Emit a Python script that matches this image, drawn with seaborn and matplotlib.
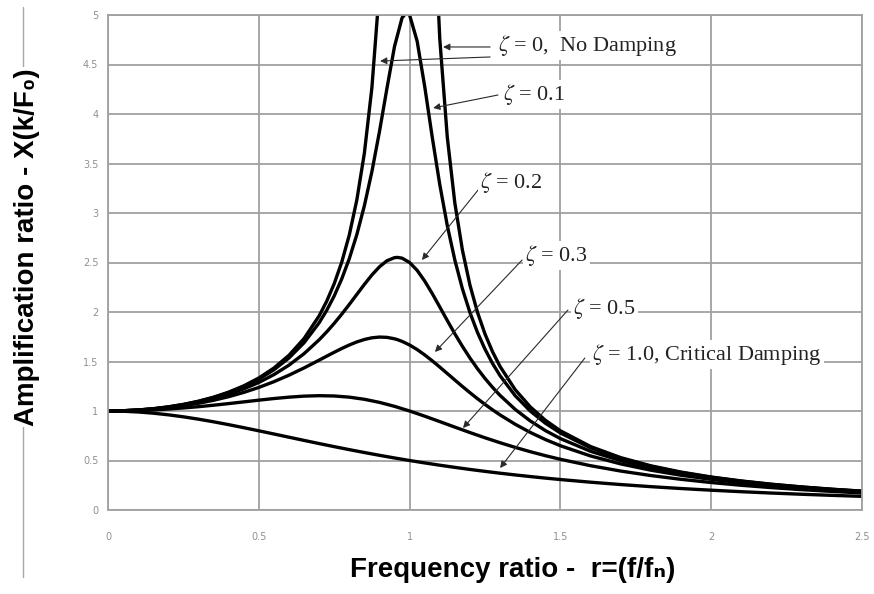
import matplotlib
matplotlib.use("Agg")
import matplotlib.pyplot as plt
from matplotlib import font_manager
from matplotlib.lines import Line2D
from matplotlib.ticker import MultipleLocator, FuncFormatter
import pandas as pd
import seaborn as sns

# frequency ratio samples
r_coarse = [0.0, 0.05, 0.1, 0.15, 0.2, 0.25, 0.3, 0.35, 0.4, 0.45, 0.5, 0.55, 0.6, 0.65,
            0.7, 0.75, 0.8, 0.85, 0.9, 0.95, 1.0, 1.05, 1.1, 1.15, 1.2, 1.25, 1.3, 1.35,
            1.4, 1.45, 1.5, 1.6, 1.7, 1.8, 1.9, 2.0, 2.1, 2.2, 2.3, 2.4, 2.5]
r_mid = [0.0, 0.05, 0.1, 0.15, 0.2, 0.25, 0.3, 0.35, 0.4, 0.45, 0.5, 0.55, 0.6, 0.65,
         0.7, 0.725, 0.75, 0.775, 0.8, 0.825, 0.85, 0.875, 0.9, 0.925, 0.95, 0.96, 0.975,
         1.0, 1.025, 1.05, 1.075, 1.1, 1.125, 1.15, 1.175, 1.2, 1.225, 1.25, 1.275, 1.3,
         1.35, 1.4, 1.45, 1.5, 1.6, 1.7, 1.8, 1.9, 2.0, 2.1, 2.2, 2.3, 2.4, 2.5]
r_fine = [0.0, 0.05, 0.1, 0.15, 0.2, 0.25, 0.3, 0.35, 0.4, 0.45, 0.5, 0.55, 0.6, 0.65,
          0.7, 0.725, 0.75, 0.775, 0.8, 0.825, 0.85, 0.875, 0.9, 0.925, 0.95, 0.975, 0.99,
          1.0, 1.025, 1.05, 1.075, 1.1, 1.125, 1.15, 1.175, 1.2, 1.225, 1.25, 1.275, 1.3,
          1.35, 1.4, 1.45, 1.5, 1.6, 1.7, 1.8, 1.9, 2.0, 2.1, 2.2, 2.3, 2.4, 2.5]
r_below = [0.0, 0.05, 0.1, 0.15, 0.2, 0.25, 0.3, 0.35, 0.4, 0.45, 0.5, 0.55, 0.6, 0.65,
           0.7, 0.725, 0.75, 0.775, 0.8, 0.825, 0.85, 0.875, 0.9, 0.925]
r_above = [1.075, 1.1, 1.125, 1.15, 1.175, 1.2, 1.225, 1.25, 1.275, 1.3, 1.35, 1.4,
           1.45, 1.5, 1.6, 1.7, 1.8, 1.9, 2.0, 2.1, 2.2, 2.3, 2.4, 2.5]

# amplification ratio per damping ratio
amp_z0_below = [1.0, 1.0025, 1.0101, 1.0230, 1.0417, 1.0667, 1.0989, 1.1396, 1.1905, 1.2539,
                1.3333, 1.4337, 1.5625, 1.7316, 1.9608, 2.1080, 2.2857, 2.5039, 2.7778,
                3.1311, 3.6036, 4.2667, 5.2632, 6.9264]
amp_z0_above = [6.4257, 4.7619, 3.7647, 3.1008, 2.6273, 2.2727, 1.9975, 1.7778, 1.5984,
                1.4493, 1.2158, 1.0417, 0.9070, 0.8, 0.6410, 0.5291, 0.4464, 0.3831,
                0.3333, 0.2933, 0.2604, 0.2331, 0.2101, 0.1905]
amp_z01 = [1.0, 1.0025, 1.0099, 1.0225, 1.0408, 1.0652, 1.0965, 1.1360, 1.1851, 1.2460,
           1.3216, 1.4162, 1.5357, 1.6893, 1.8908, 2.0160, 2.1622, 2.3343, 2.5384, 2.7818,
           3.0728, 3.4188, 3.8208, 4.2613, 4.6826, 4.9713, 5.0252, 5.0, 4.7358, 4.2794,
           3.7677, 3.2880, 2.8726, 2.5245, 2.2355, 1.9952, 1.7942, 1.6245, 1.4802, 1.3562,
           1.1551, 1.0, 0.8772, 0.7779, 0.6279, 0.5207, 0.4408, 0.3791, 0.3304, 0.2911,
           0.2587, 0.2318, 0.2090, 0.1896]
amp_z02 = [1.0, 1.0023, 1.0093, 1.0211, 1.0381, 1.0606, 1.0895, 1.1254, 1.1695, 1.2231,
           1.2883, 1.3673, 1.4630, 1.5790, 1.7188, 1.7986, 1.8851, 1.9780, 2.0761, 2.1775,
           2.2786, 2.3740, 2.4566, 2.5178, 2.5490, 2.5515, 2.5438, 2.5, 2.4206, 2.3130,
           2.1868, 2.0511, 1.9137, 1.7800, 1.6535, 1.5357, 1.4275, 1.3287, 1.2389, 1.1574,
           1.0163, 0.8998, 0.8027, 0.7212, 0.5931, 0.4979, 0.4250, 0.3679, 0.3221, 0.2847,
           0.2538, 0.2279, 0.2059, 0.1871]
amp_z03 = [1.0, 1.0021, 1.0082, 1.0187, 1.0336, 1.0533, 1.0780, 1.1083, 1.1447, 1.1877,
           1.2380, 1.2960, 1.3618, 1.4350, 1.5136, 1.5537, 1.5933, 1.6314, 1.6667, 1.6975,
           1.7223, 1.7393, 1.7469, 1.7438, 1.7293, 1.7202, 1.7033, 1.6667, 1.6205, 1.5667,
           1.5071, 1.4438, 1.3786, 1.3129, 1.2481, 1.1851, 1.1245, 1.0667, 1.0119, 0.9603,
           0.8663, 0.7839, 0.7120, 0.6492, 0.5459, 0.4656, 0.4021, 0.3511, 0.3095, 0.2751,
           0.2463, 0.2219, 0.2011, 0.1831]
amp_z05 = [1.0, 1.0012, 1.0050, 1.0112, 1.0198, 1.0307, 1.0436, 1.0585, 1.0748, 1.0921,
           1.1094, 1.1258, 1.1399, 1.1501, 1.1546, 1.1517, 1.1399, 1.1184, 1.0871, 1.0471,
           1.0, 0.9479, 0.8930, 0.8373, 0.7824, 0.7295, 0.6795, 0.6326, 0.5891, 0.5490,
           0.5121, 0.4475, 0.3934, 0.3480, 0.3098, 0.2774, 0.2497, 0.2260, 0.2054, 0.1876,
           0.1720]
amp_z10 = [1.0, 0.9975, 0.9901, 0.9780, 0.9615, 0.9412, 0.9174, 0.8909, 0.8621, 0.8316,
           0.8, 0.7678, 0.7353, 0.7030, 0.6711, 0.64, 0.6098, 0.5806, 0.5525, 0.5256,
           0.5, 0.4756, 0.4525, 0.4306, 0.4098, 0.3902, 0.3717, 0.3543, 0.3378, 0.3223,
           0.3077, 0.2809, 0.2571, 0.2358, 0.2169, 0.2, 0.1848, 0.1712, 0.1590, 0.1479,
           0.1379]

tick_values = [0, 0.5, 1, 1.5, 2, 2.5, 3, 3.5, 4, 4.5, 5]

labels = [r"$\zeta$ = 0,  No Damping", r"$\zeta$ = 0.1", r"$\zeta$ = 0.2",
          r"$\zeta$ = 0.3", r"$\zeta$ = 0.5", r"$\zeta$ = 1.0, Critical Damping"]

sns.set_style("white")
names = {f.name for f in font_manager.fontManager.ttflist}
narrow = "Liberation Sans Narrow" if "Liberation Sans Narrow" in names else None
plt.rcParams["mathtext.fontset"] = "stix"

branches = [
    ("z0a", r_below, amp_z0_below),
    ("z0b", r_above, amp_z0_above),
    ("z01", r_fine, amp_z01),
    ("z02", r_mid, amp_z02),
    ("z03", r_mid, amp_z03),
    ("z05", r_coarse, amp_z05),
    ("z10", r_coarse, amp_z10),
]
curves = pd.concat(
    [pd.DataFrame({"r": rr, "amp": aa, "branch": name}) for name, rr, aa in branches],
    ignore_index=True,
)

fig = plt.figure(figsize=(8.74, 5.94), dpi=100)
ax = fig.add_axes([108 / 874, 1 - 510 / 594, 754 / 874, 495 / 594])

sns.lineplot(data=curves, x="r", y="amp", units="branch", estimator=None,
             sort=False, color="black", linewidth=2.4, ax=ax, legend=False)
for line in ax.lines:
    line.set_solid_joinstyle("round")

ax.set_xlim(0, 2.5)
ax.set_ylim(0, 5)
ax.xaxis.set_major_locator(MultipleLocator(0.5))
ax.set_yticks(tick_values)
fmt = FuncFormatter(lambda v, _: f"{v:g}")
ax.xaxis.set_major_formatter(fmt)
ax.yaxis.set_major_formatter(fmt)
ax.grid(True, color="#a0a0a0", linewidth=1.3)
ax.set_axisbelow(True)
for side in ["left", "right", "top", "bottom"]:
    ax.spines[side].set_color("#a0a0a0")
    ax.spines[side].set_linewidth(1.3)
ax.tick_params(axis="both", colors="#909090", labelcolor="#909090", labelsize=7,
               length=4, width=1, direction="out")
ax.tick_params(axis="x", pad=12)
ax.tick_params(axis="y", pad=3)
ax.set_xlabel("")
ax.set_ylabel("")

# callout labels with arrows
text_pos = [(1.293, 4.687), (1.310, 4.202), (1.233, 3.313),
            (1.383, 2.566), (1.542, 2.040), (1.605, 1.566)]
arrows = [
    [((1.267, 4.677), (1.111, 4.677)), ((1.267, 4.576), (0.902, 4.535))],
    [((1.293, 4.192), (1.078, 4.061))],
    [((1.227, 3.232), (1.041, 2.525))],
    [((1.373, 2.525), (1.084, 1.596))],
    [((1.525, 2.020), (1.177, 0.828))],
    [((1.581, 1.535), (1.300, 0.424))],
]
for label, (tx, ty), arrs in zip(labels, text_pos, arrows):
    for start, end in arrs:
        ax.annotate("", xy=end, xytext=start,
                    arrowprops=dict(arrowstyle="-|>", color="#2a2a2a", lw=0.8,
                                    mutation_scale=10, shrinkA=0, shrinkB=0))
    ax.text(tx, ty, label, ha="left", va="center", fontsize=16,
            family="Liberation Serif", color="#222222",
            bbox=dict(facecolor="white", edgecolor="none", pad=1.5))

# axis titles
label_font = [narrow, "DejaVu Sans"] if narrow else ["Liberation Sans", "DejaVu Sans"]
label_size = 24.5 if narrow else 20
fig.add_artist(Line2D([23 / 874, 23 / 874], [1 - 7 / 594, 1 - 577 / 594],
                      transform=fig.transFigure, color="#a8a8a8", linewidth=1))
fig.text(27 / 874, 1 - 247 / 594, "Amplification ratio - X(k/F\u2080)", rotation=90,
         ha="center", va="center", fontsize=label_size, fontweight="bold",
         family=label_font, color="black",
         bbox=dict(facecolor="white", edgecolor="none", pad=1))
fig.text(513 / 874, 1 - 570 / 594, "Frequency ratio -  r=(f/f\u2099)",
         ha="center", va="center", fontsize=label_size, fontweight="bold",
         family=label_font, color="black")

fig.savefig("out.png", dpi=100)
